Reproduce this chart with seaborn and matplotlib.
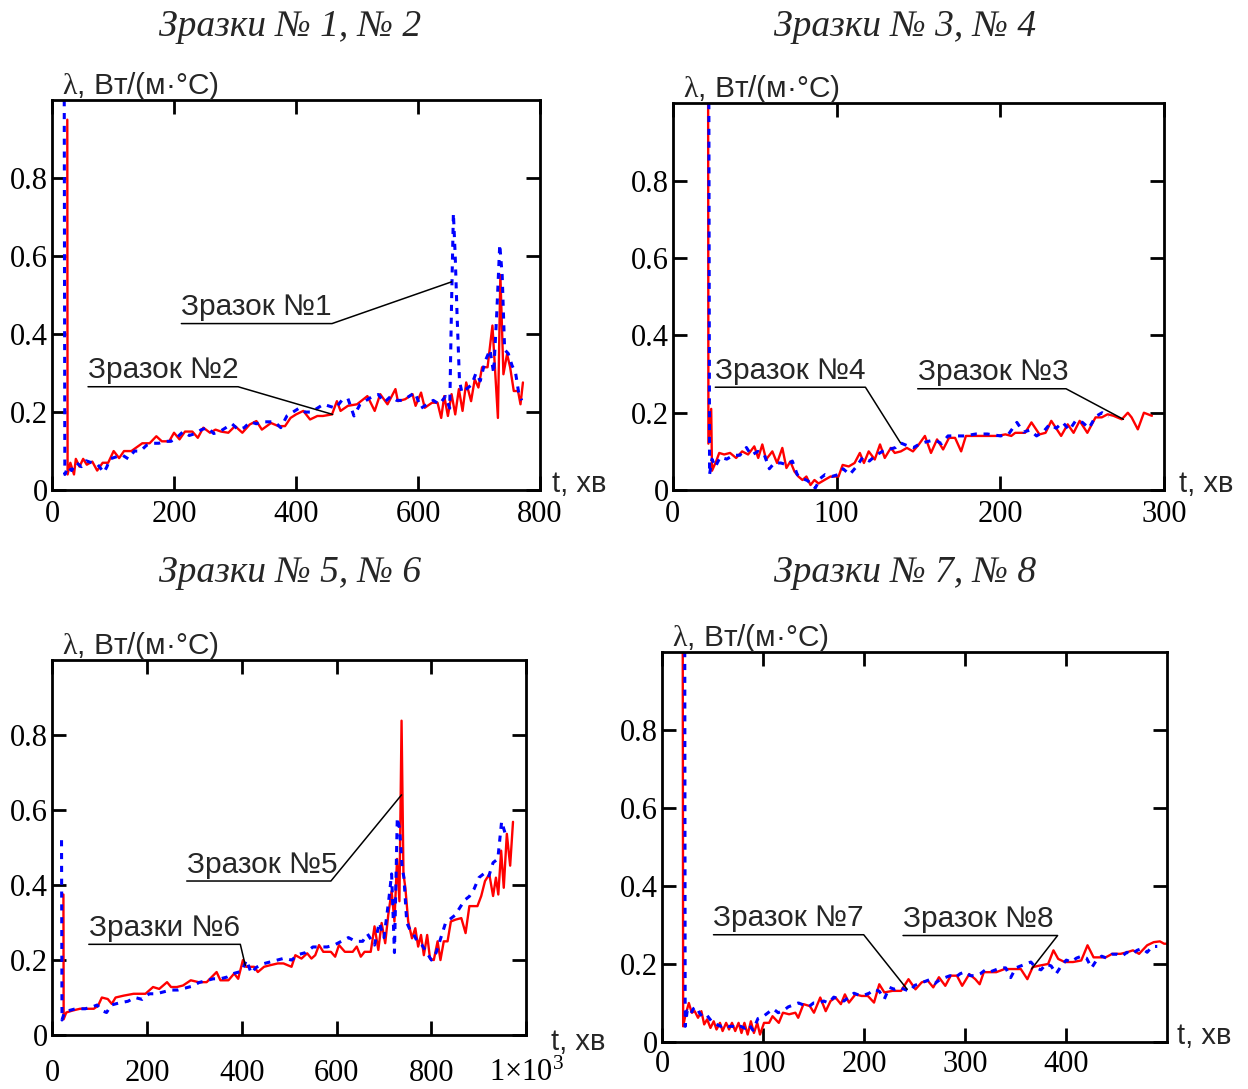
import matplotlib
matplotlib.use("Agg")
import matplotlib.pyplot as plt
import pandas as pd
import seaborn as sns

sns.set_style("ticks")
plt.rcParams['font.family'] = ['Liberation Serif', 'DejaVu Serif']
plt.rcParams['mathtext.fontset'] = 'custom'
plt.rcParams['mathtext.rm'] = 'Liberation Serif'
plt.rcParams['mathtext.it'] = 'Liberation Serif'

# ---- data: (t, lambda) pairs ----
# panel 1: samples 1 (blue, dotted) and 2 (red)
s1_blue = [(20, 1.0), (21, 0.04), (26, 0.06), (32, 0.05), (40, 0.07), (48, 0.06), (56, 0.075), (65, 0.07),
           (75, 0.065), (85, 0.045), (90, 0.06), (95, 0.08), (105, 0.085), (115, 0.09), (125, 0.08), (135, 0.1),
           (145, 0.1), (155, 0.115), (165, 0.12), (175, 0.12), (185, 0.125), (195, 0.125), (205, 0.135),
           (215, 0.15), (225, 0.14), (235, 0.145), (245, 0.155), (255, 0.16), (265, 0.145), (275, 0.15),
           (285, 0.16), (295, 0.17), (305, 0.155), (315, 0.16), (325, 0.175), (335, 0.17), (345, 0.175),
           (355, 0.175), (365, 0.175), (375, 0.16), (385, 0.19), (395, 0.2), (405, 0.21), (415, 0.2), (425, 0.2),
           (435, 0.21), (445, 0.22), (455, 0.215), (465, 0.21), (475, 0.23), (485, 0.235), (495, 0.19),
           (505, 0.22), (515, 0.23), (525, 0.24), (535, 0.245), (545, 0.225), (555, 0.24), (565, 0.23),
           (575, 0.23), (585, 0.24), (595, 0.25), (605, 0.21), (615, 0.22), (625, 0.23), (635, 0.22), (645, 0.24),
           (652, 0.21), (655, 0.48), (658, 0.71), (661, 0.6), (664, 0.45), (668, 0.28), (672, 0.25), (680, 0.26),
           (688, 0.27), (695, 0.3), (702, 0.28), (710, 0.33), (718, 0.36), (724, 0.3), (729, 0.45), (734, 0.63),
           (738, 0.55), (742, 0.36), (748, 0.35), (754, 0.32), (760, 0.3), (765, 0.25), (770, 0.23)]
s2_red = [(25, 0.95), (25.5, 0.04), (30, 0.07), (36, 0.04), (39, 0.08), (45, 0.06), (51, 0.08), (57, 0.065),
          (66, 0.073), (74, 0.05), (83, 0.07), (92, 0.07), (101, 0.10), (110, 0.082), (118, 0.10), (130, 0.10),
          (139, 0.11), (148, 0.12), (160, 0.12), (171, 0.138), (180, 0.125), (192, 0.125), (200, 0.147),
          (209, 0.13), (218, 0.15), (230, 0.15), (239, 0.134), (248, 0.16), (259, 0.147), (268, 0.155),
          (277, 0.15), (289, 0.147), (300, 0.164), (312, 0.147), (324, 0.168), (335, 0.177), (344, 0.155),
          (359, 0.172), (371, 0.164), (382, 0.164), (391, 0.185), (400, 0.194), (412, 0.203), (423, 0.181),
          (435, 0.19), (444, 0.19), (459, 0.194), (467, 0.228), (473, 0.203), (485, 0.216), (500, 0.22),
          (517, 0.241), (529, 0.203), (538, 0.246), (550, 0.22), (563, 0.259), (567, 0.228), (579, 0.233),
          (591, 0.246), (596, 0.216), (605, 0.25), (611, 0.211), (623, 0.224), (632, 0.224), (638, 0.185),
          (643, 0.241), (649, 0.19), (655, 0.246), (661, 0.194), (667, 0.259), (673, 0.203), (679, 0.276),
          (687, 0.228), (693, 0.284), (699, 0.263), (705, 0.315), (714, 0.315), (722, 0.422), (731, 0.185),
          (735, 0.552), (740, 0.297), (746, 0.349), (751, 0.315), (757, 0.254), (764, 0.254), (768, 0.22),
          (772, 0.276)]

# panel 2: samples 3 (red) and 4 (blue, dotted)
s3_red = [(21.6, 1.2), (21.8, 0.12), (23.5, 0.21), (24, 0.05), (26.5, 0.074), (28.4, 0.096), (31.4, 0.092),
          (35, 0.096), (38.7, 0.083), (42.4, 0.1), (46, 0.092), (49.8, 0.113), (52.2, 0.083), (54.7, 0.118),
          (57, 0.079), (60.8, 0.1), (63.7, 0.07), (66.9, 0.109), (69.4, 0.057), (71.8, 0.074), (74.3, 0.048),
          (76.7, 0.035), (79.2, 0.026), (81.6, 0.035), (84.1, 0.013), (86.5, 0.026), (89, 0.017), (92.6, 0.026),
          (96.3, 0.035), (101.2, 0.035), (103.7, 0.065), (107.4, 0.061), (111, 0.07), (114.2, 0.096),
          (116.7, 0.07), (119.6, 0.1), (123.3, 0.079), (126.5, 0.118), (129.4, 0.083), (133.1, 0.109),
          (135.5, 0.096), (139.2, 0.1), (142.9, 0.109), (146.6, 0.1), (150.2, 0.118), (153.9, 0.14),
          (157.6, 0.096), (161.3, 0.131), (165, 0.105), (168.6, 0.135), (172.3, 0.135), (176, 0.1),
          (178.9, 0.14), (188, 0.14), (198, 0.14), (203, 0.144), (206.6, 0.14), (209, 0.148), (215, 0.148),
          (218.9, 0.175), (223.8, 0.144), (227.5, 0.148), (231, 0.179), (237, 0.14), (241, 0.17),
          (244.6, 0.148), (248.3, 0.179), (253, 0.148), (258, 0.188), (261.8, 0.188), (265.4, 0.196),
          (269, 0.192), (274, 0.183), (277.7, 0.2), (280, 0.188), (283.8, 0.157), (287.5, 0.2), (292.4, 0.192)]
s4_blue = [(22, 1.2), (22.5, 0.04), (24, 0.08), (26, 0.06), (29, 0.085), (33, 0.08), (37, 0.09), (41, 0.09),
           (45, 0.11), (48, 0.09), (52, 0.1), (56, 0.09), (59, 0.055), (62, 0.07), (66, 0.07), (70, 0.065),
           (73, 0.075), (76, 0.04), (79, 0.03), (82, 0.025), (85, 0.015), (87, 0.005), (90, 0.03), (93, 0.04),
           (97, 0.035), (101, 0.04), (104, 0.055), (108, 0.04), (112, 0.06), (116, 0.085), (120, 0.075),
           (124, 0.09), (128, 0.1), (132, 0.105), (136, 0.11), (139, 0.122), (143, 0.115), (147, 0.11),
           (151, 0.12), (155, 0.125), (160, 0.13), (164, 0.12), (168, 0.14), (172, 0.14), (178, 0.14),
           (185, 0.145), (192, 0.145), (200, 0.14), (205, 0.145), (210, 0.175), (214, 0.15), (218, 0.155),
           (222, 0.14), (226, 0.15), (230, 0.17), (234, 0.16), (238, 0.175), (242, 0.155), (246, 0.18),
           (250, 0.175), (254, 0.16), (258, 0.19), (262, 0.2), (266, 0.19)]

# panel 3: samples 5 (red) and 6 (blue, dotted)
s5_red = [(24, 0.375), (24.5, 0.042), (30, 0.06), (42.5, 0.065), (59, 0.07), (88, 0.07), (97, 0.078),
          (105, 0.1), (117.5, 0.096), (126, 0.083), (134, 0.1), (151, 0.105), (172, 0.11), (197, 0.11),
          (213, 0.128), (226, 0.123), (242.5, 0.141), (251, 0.128), (263, 0.128), (276, 0.132), (292.5, 0.146),
          (309, 0.141), (326, 0.141), (347, 0.168), (355, 0.146), (372, 0.146), (384, 0.164), (392.5, 0.15),
          (402.5, 0.2), (409, 0.182), (426, 0.182), (434, 0.168), (447, 0.182), (459, 0.186), (476, 0.191),
          (488, 0.191), (505, 0.182), (513, 0.213), (526, 0.204), (538, 0.218), (547, 0.204), (555, 0.213),
          (563, 0.24), (572, 0.222), (588, 0.222), (597, 0.209), (605, 0.24), (617.5, 0.222), (634, 0.222),
          (642.5, 0.236), (651, 0.209), (659, 0.222), (672, 0.222), (680, 0.29), (688, 0.227), (695, 0.299),
          (702.5, 0.245), (709, 0.321), (716, 0.384), (722, 0.303), (727.5, 0.47), (732.5, 0.357),
          (737, 0.839), (741, 0.43), (745, 0.393), (751, 0.303), (759, 0.258), (766, 0.285), (772, 0.236),
          (778, 0.267), (784, 0.213), (791, 0.267), (797, 0.204), (805, 0.2), (813, 0.25), (819, 0.2),
          (826, 0.25), (834, 0.25), (841, 0.303), (851, 0.308), (863, 0.312), (872, 0.272), (880, 0.344),
          (897, 0.344), (905, 0.371), (913, 0.411), (922, 0.429), (930, 0.371), (936, 0.42), (941, 0.375),
          (947, 0.492), (952.5, 0.393), (959, 0.537), (966, 0.452), (972, 0.569)]
s6_blue = [(20, 0.52), (21, 0.04), (26, 0.06), (35, 0.065), (50, 0.07), (70, 0.07), (85, 0.075), (95, 0.08),
           (105, 0.065), (115, 0.06), (125, 0.08), (140, 0.085), (160, 0.09), (175, 0.1), (190, 0.095),
           (205, 0.11), (220, 0.11), (235, 0.115), (250, 0.12), (265, 0.12), (280, 0.125), (295, 0.13),
           (310, 0.14), (325, 0.145), (340, 0.15), (355, 0.15), (370, 0.155), (385, 0.165), (400, 0.17),
           (410, 0.2), (420, 0.165), (430, 0.18), (445, 0.19), (460, 0.195), (475, 0.2), (490, 0.205),
           (505, 0.2), (520, 0.215), (535, 0.22), (550, 0.235), (565, 0.235), (580, 0.235), (595, 0.24),
           (610, 0.25), (625, 0.26), (640, 0.25), (655, 0.25), (665, 0.27), (680, 0.24), (690, 0.3), (700, 0.26),
           (710, 0.36), (716, 0.43), (722, 0.22), (728, 0.58), (733, 0.55), (738, 0.45), (742, 0.42),
           (748, 0.3), (755, 0.28), (762, 0.27), (770, 0.25), (780, 0.24), (790, 0.22), (800, 0.2), (810, 0.22),
           (820, 0.26), (830, 0.3), (840, 0.31), (850, 0.32), (860, 0.34), (870, 0.36), (880, 0.37), (890, 0.39),
           (900, 0.42), (910, 0.43), (920, 0.42), (930, 0.46), (940, 0.47), (948, 0.57), (955, 0.54),
           (962, 0.53)]

# panel 4: samples 7 and 8
s7_red = [(20.5, 1.2), (21, 0.04), (23, 0.066), (26.6, 0.1), (29.5, 0.075), (32.4, 0.079), (35.7, 0.062),
          (39, 0.079), (41.8, 0.045), (44.7, 0.058), (48, 0.036), (51.2, 0.053), (54, 0.032), (57.4, 0.049),
          (60, 0.028), (63.5, 0.049), (66.4, 0.032), (69.3, 0.049), (72.5, 0.028), (75.8, 0.049), (78.7, 0.023),
          (81.6, 0.049), (84.8, 0.019), (88, 0.053), (91, 0.023), (94.3, 0.049), (97, 0.019), (101, 0.049),
          (106, 0.049), (109.4, 0.066), (115.6, 0.049), (119.7, 0.075), (125.8, 0.071), (132, 0.075),
          (134.8, 0.062), (140, 0.097), (146.3, 0.092), (150.4, 0.075), (156.6, 0.114), (162, 0.079),
          (166.8, 0.105), (171.7, 0.114), (177, 0.097), (181, 0.122), (185, 0.101), (191.4, 0.122),
          (197.5, 0.118), (203.7, 0.118), (209.8, 0.101), (215, 0.148), (220, 0.127), (228, 0.131),
          (236.5, 0.131), (243.9, 0.161), (250.8, 0.135), (257, 0.153), (263, 0.157), (268.4, 0.14),
          (274, 0.166), (280.3, 0.144), (285.7, 0.17), (291.8, 0.17), (297, 0.144), (304, 0.174), (310, 0.161),
          (314.3, 0.148), (318.4, 0.179), (330.7, 0.179), (339, 0.187), (355, 0.187), (361.5, 0.161),
          (366.8, 0.192), (373.8, 0.196), (382, 0.2), (387.3, 0.235), (392, 0.213), (398.4, 0.205),
          (406.6, 0.205), (414.8, 0.209), (421, 0.248), (427, 0.217), (439, 0.217), (445.5, 0.226),
          (453.7, 0.226), (460, 0.23), (466, 0.235), (472, 0.226), (480, 0.248), (486.5, 0.256), (492.6, 0.258),
          (496.7, 0.252), (502, 0.252)]
s8_blue = [(22.5, 1.2), (23, 0.04), (25, 0.08), (28, 0.07), (31, 0.085), (34, 0.09), (37, 0.075), (40, 0.065),
           (44, 0.07), (47, 0.06), (50, 0.05), (54, 0.045), (58, 0.04), (62, 0.045), (66, 0.04), (70, 0.04),
           (74, 0.035), (78, 0.04), (82, 0.035), (86, 0.045), (90, 0.03), (95, 0.06), (100, 0.065), (105, 0.075),
           (110, 0.085), (115, 0.075), (120, 0.08), (125, 0.09), (130, 0.095), (135, 0.1), (140, 0.095),
           (145, 0.09), (150, 0.1), (155, 0.1), (160, 0.105), (165, 0.1), (170, 0.115), (175, 0.11), (180, 0.105),
           (185, 0.115), (190, 0.125), (195, 0.12), (200, 0.12), (205, 0.125), (210, 0.135), (215, 0.13),
           (220, 0.11), (225, 0.14), (230, 0.135), (235, 0.14), (240, 0.135), (245, 0.13), (250, 0.145),
           (255, 0.15), (260, 0.155), (265, 0.16), (270, 0.15), (275, 0.16), (280, 0.165), (285, 0.17),
           (290, 0.165), (295, 0.175), (300, 0.18), (305, 0.17), (310, 0.17), (315, 0.175), (320, 0.185),
           (325, 0.18), (330, 0.185), (335, 0.19), (340, 0.19), (345, 0.165), (350, 0.19), (355, 0.195),
           (360, 0.2), (365, 0.205), (370, 0.19), (375, 0.185), (380, 0.2), (385, 0.195), (390, 0.175),
           (395, 0.195), (400, 0.21), (405, 0.205), (410, 0.215), (415, 0.22), (420, 0.215), (425, 0.19),
           (430, 0.21), (435, 0.22), (440, 0.215), (445, 0.225), (450, 0.225), (455, 0.22), (460, 0.23),
           (465, 0.225), (470, 0.235), (475, 0.24), (480, 0.23), (485, 0.245), (490, 0.245)]

titles = ["Зразки № 1, № 2", "Зразки № 3, № 4", "Зразки № 5, № 6", "Зразки № 7, № 8"]
y_ticks = [0, 0.2, 0.4, 0.6, 0.8]
y_ticklabels = ["0", "0.2", "0.4", "0.6", "0.8"]
x_ticks = [[0, 200, 400, 600, 800], [0, 100, 200, 300],
           [0, 200, 400, 600, 800, 1000], [0, 100, 200, 300, 400]]
x_ticklabels = [["0", "200", "400", "600", "800"], ["0", "100", "200", "300"],
                ["0", "200", "400", "600", "800", r"1×10$^3$"], ["0", "100", "200", "300", "400"]]
x_max = [800, 300, 1000, 500]

# (label, underline start x, underline end x, underline y, target x, target y)
notes = [
    [("Зразок №1", 212, 459, 0.427, 655, 0.534), ("Зразок №2", 59, 305, 0.265, 460, 0.194)],
    [("Зразок №4", 26, 117.6, 0.266, 139, 0.122), ("Зразок №3", 149.5, 240, 0.262, 275, 0.183)],
    [("Зразок №5", 284, 588, 0.411, 737, 0.641), ("Зразки №6", 77.5, 397, 0.242, 407.5, 0.186)],
    [("Зразок №7", 51, 199.6, 0.275, 242.6, 0.135), ("Зразок №8", 238.5, 391.4, 0.273, 365.6, 0.187)],
]

series = [(s2_red, s1_blue), (s3_red, s4_blue), (s5_red, s6_blue), (s7_red, s8_blue)]

# axes rectangles in figure fraction
rects = [[0.0417, 0.550, 0.391, 0.358], [0.539, 0.550, 0.394, 0.355],
         [0.0417, 0.0496, 0.380, 0.344], [0.5304, 0.0432, 0.405, 0.358]]
title_pos = [(0.2324, 0.975), (0.725, 0.975), (0.2324, 0.474), (0.725, 0.474)]
x_pad = [7, 7, 17, 6]
xlab_x = [1.024, 1.03, 1.053, 1.02]
xlab_y = [-0.005, -0.005, -0.04, -0.005]

fig = plt.figure(figsize=(12.48, 10.89), dpi=100)

for i in range(4):
    ax = fig.add_axes(rects[i])
    red, blue = series[i]
    df_r = pd.DataFrame(red, columns=["t", "lam"])
    df_b = pd.DataFrame(blue, columns=["t", "lam"])
    sns.lineplot(data=df_r, x="t", y="lam", ax=ax, color="#ff0000", lw=1.7,
                 sort=False, estimator=None)
    sns.lineplot(data=df_b, x="t", y="lam", ax=ax, color="#0000ff", lw=2.2,
                 sort=False, estimator=None, linestyle=(0, (2, 2.2)))
    ax.set_xlim(0, x_max[i])
    ax.set_ylim(0, 1.0)
    ax.set_xlabel("")
    ax.set_ylabel("")
    ax.set_xticks(x_ticks[i])
    ax.set_xticklabels(x_ticklabels[i])
    ax.set_yticks(y_ticks)
    ax.set_yticklabels(y_ticklabels)
    ax.tick_params(direction="in", length=10, width=2, top=True, right=True,
                   labelsize=22, colors="black")
    ax.tick_params(axis="x", pad=x_pad[i])
    ax.tick_params(axis="y", pad=3)
    for sp in ax.spines.values():
        sp.set_visible(True)
        sp.set_linewidth(2)
        sp.set_color("black")

    ax.text(0.02, 0.995, r"$\lambda$, Вт/(м·°C)", transform=ax.transAxes,
            ha="left", va="bottom", fontsize=21.5, family="Liberation Sans")
    ax.text(xlab_x[i], xlab_y[i], "t, хв", transform=ax.transAxes, ha="left", va="baseline",
            fontsize=21, family="Liberation Sans")

    for label, xa, xb, yu, xt, yt in notes[i]:
        ax.plot([xa, xb, xt], [yu, yu, yt], color="black", lw=1.1)
        ax.text(xa, yu + 0.006, label, ha="left", va="bottom", fontsize=21.5,
                family="Liberation Sans")

    fig.text(title_pos[i][0], title_pos[i][1], titles[i], ha="center", va="center",
             fontsize=27, style="italic", family="Liberation Serif")

fig.savefig("out.png", dpi=100)
